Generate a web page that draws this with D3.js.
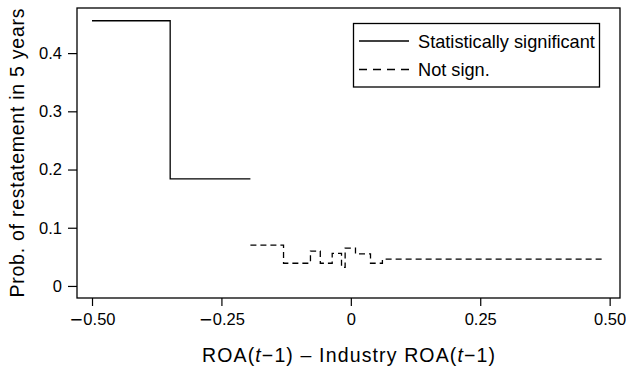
<!DOCTYPE html>
<html>
<head>
<meta charset="utf-8">
<script src="https://cdn.jsdelivr.net/npm/d3@7"></script>
<style>
  body { margin: 0; background: #fff; }
  svg { display: block; font-family: "Liberation Sans", Arial, Helvetica, sans-serif; }
</style>
</head>
<body>
<svg id="chart" width="626" height="369"></svg>
<script>
// Step-function estimates
const sigX = [-0.500, -0.349, -0.194]
const sigY = [0.4556, 0.184, 0.184]

const notSigX = [-0.194, -0.130, -0.078, -0.059, -0.036, -0.018, -0.011, 0.009, 0.038, 0.061, 0.492]
const notSigY = [0.070, 0.039, 0.060, 0.039, 0.056, 0.032, 0.065, 0.055, 0.039, 0.046, 0.046]

const xTicks = [-0.5, -0.25, 0, 0.25, 0.5]
const xTickLabels = ['\u22120.50', '\u22120.25', '0', '0.25', '0.50']
const yTicks = [0, 0.1, 0.2, 0.3, 0.4]
const yTickLabels = ['0', '0.1', '0.2', '0.3', '0.4']

const legendItems = ['Statistically significant', 'Not sign.']

const svg = d3.select('#chart')
const plotL = 77, plotR = 620, plotT = 8, plotB = 298

const x = d3.scaleLinear().domain([-0.529, 0.520]).range([plotL, plotR])
const y = d3.scaleLinear().domain([-0.0207, 0.4775]).range([plotB, plotT])

// Axes
const xAxis = d3.axisBottom(x)
  .tickValues(xTicks)
  .tickFormat((d, i) => xTickLabels[i])
  .tickSize(8)
  .tickSizeOuter(0)
  .tickPadding(7)
const yAxis = d3.axisLeft(y)
  .tickValues(yTicks)
  .tickFormat((d, i) => yTickLabels[i])
  .tickSize(9)
  .tickSizeOuter(0)
  .tickPadding(6)

const gx = svg.append('g').attr('transform', `translate(0,${plotB})`).call(xAxis)
const gy = svg.append('g').attr('transform', `translate(${plotL},0)`).call(yAxis)
for (const g of [gx, gy]) {
  g.select('.domain').remove()
  g.selectAll('.tick line').attr('stroke', '#000').attr('stroke-width', 1.2)
  g.selectAll('.tick text')
    .attr('fill', '#000')
    .style('font-size', '16.5px')
    .style('font-family', '"Liberation Sans", Arial, sans-serif')
}

// The printed minus is a long dash: draw it with DejaVu's wider glyph
gx.selectAll('.tick text').each(function () {
  const t = d3.select(this)
  const s = t.text()
  if (!s.startsWith('\u2212')) return
  t.text(null)
  t.append('tspan').style('font-family', '"DejaVu Sans", sans-serif').text('\u2212')
  t.append('tspan').text(s.slice(1))
})

// Frame
svg.append('rect')
  .attr('x', plotL).attr('y', plotT)
  .attr('width', plotR - plotL).attr('height', plotB - plotT)
  .attr('fill', 'none').attr('stroke', '#000').attr('stroke-width', 1.3)

// Step lines
const line = d3.line()
  .x(d => x(d[0]))
  .y(d => y(d[1]))
  .curve(d3.curveStepAfter)

svg.append('path')
  .datum(d3.zip(sigX, sigY))
  .attr('d', line)
  .attr('fill', 'none')
  .attr('stroke', '#000')
  .attr('stroke-width', 1.3)

svg.append('path')
  .datum(d3.zip(notSigX, notSigY))
  .attr('d', line)
  .attr('fill', 'none')
  .attr('stroke', '#000')
  .attr('stroke-width', 1.3)
  .attr('stroke-dasharray', '6,4')

// Legend
const lg = svg.append('g')
lg.append('rect')
  .attr('x', 353.5).attr('y', 23.5)
  .attr('width', 246).attr('height', 63.5)
  .attr('fill', '#fff').attr('stroke', '#000').attr('stroke-width', 1.3)

legendItems.forEach((name, i) => {
  const ly = 41 + i * 28.5
  lg.append('line')
    .attr('x1', 359).attr('x2', 409)
    .attr('y1', ly).attr('y2', ly)
    .attr('stroke', '#000').attr('stroke-width', 1.3)
    .attr('stroke-dasharray', i === 1 ? '8,6' : null)
  lg.append('text')
    .attr('x', 418).attr('y', ly)
    .attr('dy', '0.36em')
    .style('font-size', '18.2px')
    .text(name)
})

// Axis titles
svg.append('text')
  .attr('transform', `translate(24,${(plotT + plotB) / 2}) rotate(-90)`)
  .attr('text-anchor', 'middle')
  .attr('textLength', 289)
  .attr('lengthAdjust', 'spacing')
  .style('font-size', '19.5px')
  .text('Prob. of restatement in 5 years')

const xt = svg.append('text')
  .attr('x', 348.5)
  .attr('y', 361.5)
  .attr('text-anchor', 'middle')
  .attr('textLength', 293)
  .attr('lengthAdjust', 'spacing')
  .style('font-size', '19.5px')
xt.append('tspan').text('ROA(')
xt.append('tspan').style('font-style', 'italic').text('t')
xt.append('tspan').text('\u22121) \u2013 Industry ROA(')
xt.append('tspan').style('font-style', 'italic').text('t')
xt.append('tspan').text('\u22121)')
</script>
</body>
</html>
